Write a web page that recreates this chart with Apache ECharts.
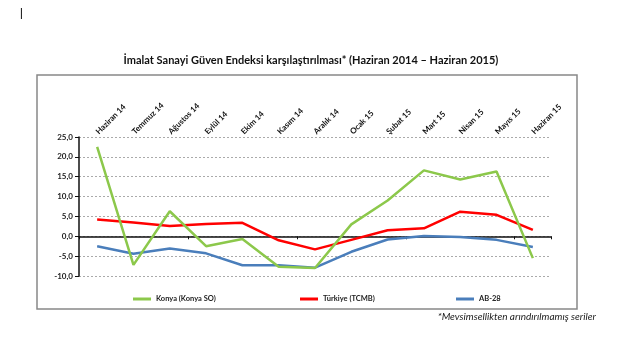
<!DOCTYPE html>
<html><head><meta charset="utf-8">
<script src="https://cdn.jsdelivr.net/npm/echarts@6/dist/echarts.min.js"></script>
<style>html,body{margin:0;padding:0;background:#fff}#c{width:640px;height:360px}</style>
</head><body><div id="c"></div>
<script>
const categories = ['Haziran 14','Temmuz 14','Ağustos 14','Eylül 14','Ekim 14','Kasım 14','Aralık 14','Ocak 15','Şubat 15','Mart 15','Nisan 15','Mayıs 15','Haziran 15'];
const konya = [22.5, -7.2, 6.3, -2.5, -0.7, -7.7, -8.0, 3.0, 9.0, 16.6, 14.3, 16.3, -5.5];
const turkiye = [4.2, 3.5, 2.6, 3.1, 3.4, -1.0, -3.3, -0.9, 1.5, 2.0, 6.2, 5.4, 1.6];
const ab28 = [-2.5, -4.4, -3.1, -4.3, -7.3, -7.3, -7.9, -3.9, -0.8, 0.1, -0.2, -0.9, -2.7];
const yTicks = {min: -10, max: 25, interval: 5};
const title = 'İmalat Sanayi Güven Endeksi karşılaştırılması* (Haziran 2014 – Haziran 2015)';
const footnote = '*Mevsimsellikten arındırılmamış seriler';

const chart = echarts.init(document.getElementById('c'), null, {renderer: 'canvas'});
const font = 'Lato, "Open Sans", sans-serif';
const legendBase = {
  top: 290, itemWidth: 18, itemHeight: 3, icon: 'rect',
  textStyle: {fontFamily: font, fontSize: 7.5, fontWeight: 'bold', color: '#222'}, itemGap: 2
};
chart.setOption({
  animation: false,
  title: {
    text: title, left: 306, textAlign: 'center', top: 50,
    textStyle: {fontFamily: font, fontSize: 11, fontWeight: 'bold', color: '#111'}
  },
  legend: [
    Object.assign({}, legendBase, {left: 128, data: ['Konya (Konya SO)']}),
    Object.assign({}, legendBase, {left: 295, data: ['Türkiye (TCMB)']}),
    Object.assign({}, legendBase, {left: 451, data: ['AB-28']})
  ],
  grid: {left: 79, top: 137, right: 89, bottom: 84},
  xAxis: [
    {
      type: 'category', data: categories, boundaryGap: true, position: 'bottom',
      axisLine: {onZero: true, lineStyle: {color: '#111', width: 1.5}},
      axisTick: {show: true, length: 3, lineStyle: {color: '#111', width: 1}},
      axisLabel: {show: false}, splitLine: {show: false}
    },
    {
      type: 'category', data: categories, boundaryGap: true, position: 'top',
      axisLine: {show: false}, axisTick: {show: false},
      axisLabel: {rotate: -45, margin: 4, fontFamily: font, fontSize: 8, fontWeight: 'bold', color: '#111', interval: 0}
    }
  ],
  yAxis: {
    type: 'value', min: yTicks.min, max: yTicks.max, interval: yTicks.interval,
    axisLine: {show: true, lineStyle: {color: '#111', width: 1.5}},
    axisTick: {show: true, length: 4, lineStyle: {color: '#111'}},
    axisLabel: {
      fontFamily: font, fontSize: 8, fontWeight: 'bold', color: '#222', margin: 6,
      formatter: v => v.toFixed(1).replace('.', ',')
    },
    splitLine: {show: true, lineStyle: {color: '#aaa', type: [2, 2], width: 1}}
  },
  series: [
    {name: 'Konya (Konya SO)', type: 'line', data: konya, showSymbol: false, symbol: 'none',
     lineStyle: {color: '#8cc84b', width: 2.5}, itemStyle: {color: '#8cc84b'}, z: 3},
    {name: 'Türkiye (TCMB)', type: 'line', data: turkiye, showSymbol: false, symbol: 'none',
     lineStyle: {color: '#ff0000', width: 2.5}, itemStyle: {color: '#ff0000'}, z: 2},
    {name: 'AB-28', type: 'line', data: ab28, showSymbol: false, symbol: 'none',
     lineStyle: {color: '#4a7ebb', width: 2.5}, itemStyle: {color: '#4a7ebb'}, z: 2}
  ],
  graphic: [
    {type: 'rect', shape: {x: 37, y: 75, width: 540, height: 234},
     style: {fill: 'none', stroke: '#888', lineWidth: 1.5}, silent: true, z: -1},
    {type: 'text', left: 20, top: 8, style: {text: '|', font: 'bold 11px ' + font, fill: '#222'}},
    {type: 'text', right: 44, top: 312,
     style: {text: footnote, font: 'italic 10px ' + font, fill: '#222'}}
  ]
});
</script></body></html>
